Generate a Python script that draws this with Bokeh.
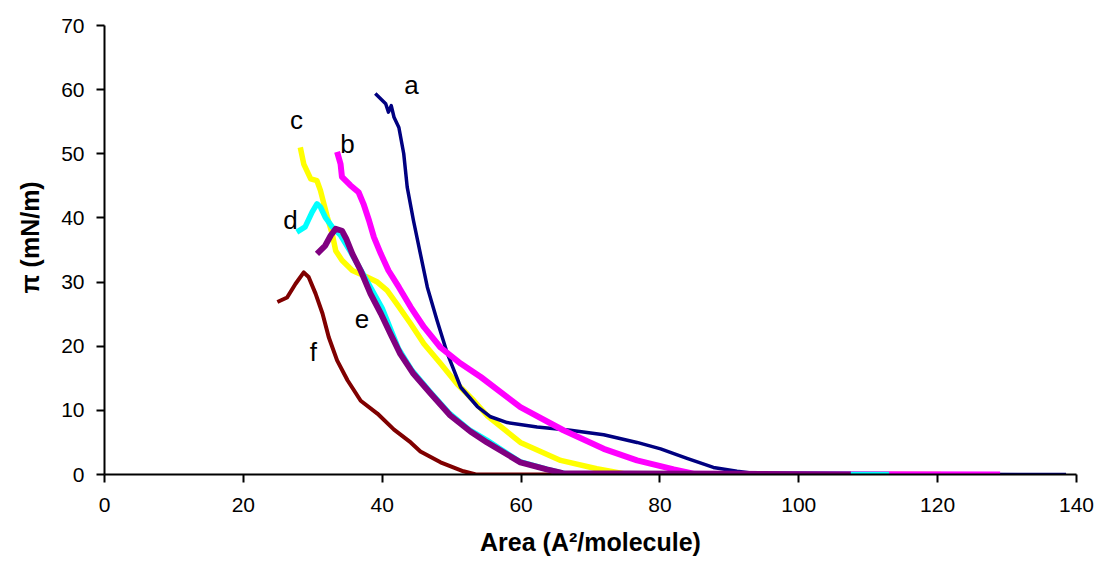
from bokeh.plotting import figure
from bokeh.models import Range1d, FixedTicker, Title
from bokeh.core.properties import value
from bokeh.embed import file_html
from bokeh.resources import INLINE

# Curve data (Area in A^2/molecule, surface pressure in mN/m)
a_x = [39.0, 40.5, 40.9, 41.3, 41.7, 42.4, 43.1, 43.6, 44.5, 45.5, 46.5, 47.9, 49.4, 51.3, 53.7, 55.6, 58.0, 62.3, 67.1, 71.9, 76.7, 80.1, 83.9, 87.7, 91.1, 94.0, 138.5]
a_y = [59.4, 57.8, 56.5, 57.5, 55.7, 54.1, 50.0, 44.8, 39.6, 34.4, 29.2, 24.0, 18.8, 13.6, 10.6, 9.0, 8.1, 7.4, 6.9, 6.2, 5.0, 4.0, 2.5, 1.1, 0.5, 0.1, 0.0]

b_x = [33.5, 34.0, 34.2, 35.4, 36.6, 37.3, 38.1, 38.8, 39.8, 40.9, 42.4, 44.1, 46.0, 48.4, 51.3, 54.2, 59.9, 66.1, 71.9, 76.7, 82.0, 85.0, 129.0]
b_y = [50.3, 48.4, 46.4, 45.1, 44.0, 42.2, 39.6, 37.0, 34.4, 31.8, 29.2, 26.1, 23.0, 19.8, 17.3, 15.2, 10.5, 6.9, 4.0, 2.2, 0.8, 0.1, 0.0]

c_x = [28.2, 28.7, 29.7, 30.6, 31.1, 31.6, 32.1, 32.8, 33.3, 34.2, 35.7, 37.8, 39.3, 40.7, 42.1, 44.1, 46.0, 48.4, 50.8, 53.2, 55.1, 59.9, 65.7, 70.9, 75.0, 120.5]
c_y = [51.0, 48.4, 46.1, 45.8, 44.3, 42.2, 40.1, 37.5, 34.9, 33.4, 31.8, 30.8, 30.0, 28.7, 26.6, 23.5, 20.4, 17.3, 14.1, 11.5, 9.2, 5.0, 2.2, 0.9, 0.1, 0.0]

d_x = [27.7, 28.9, 29.9, 30.6, 31.1, 31.8, 32.8, 34.0, 35.5, 37.8, 40.0, 42.3, 44.3, 46.8, 49.6, 52.5, 55.0, 59.8, 63.8, 66.5, 113.0]
d_y = [37.8, 38.6, 40.9, 42.2, 41.7, 40.1, 38.6, 37.3, 34.6, 30.2, 25.9, 19.7, 16.2, 13.0, 9.6, 7.0, 5.4, 2.0, 0.8, 0.1, 0.0]

e_x = [30.6, 31.8, 32.6, 33.3, 34.2, 34.8, 35.7, 36.9, 38.3, 39.8, 41.2, 42.6, 44.5, 47.0, 49.8, 52.7, 55.1, 59.9, 63.7, 66.0, 107.5]
e_y = [34.4, 35.7, 37.3, 38.3, 38.0, 36.8, 34.4, 31.8, 28.2, 25.1, 21.9, 18.8, 15.7, 12.6, 9.2, 6.7, 5.0, 1.9, 0.8, 0.2, 0.0]

f_x = [24.9, 26.3, 27.5, 28.7, 29.4, 30.4, 31.4, 32.3, 33.5, 35.0, 36.9, 39.3, 41.7, 44.1, 45.5, 48.4, 51.7, 53.5, 98.0]
f_y = [26.9, 27.6, 29.7, 31.5, 30.8, 28.2, 25.1, 21.4, 17.8, 14.7, 11.5, 9.5, 7.0, 5.0, 3.6, 1.9, 0.5, 0.0, 0.0]

# Curve labels
label_text = ["a", "b", "c", "d", "e", "f"]
label_x = [44.2, 35.0, 27.65, 26.8, 37.1, 30.1]
label_y = [60.8, 51.6, 55.2, 39.6, 24.3, 19.1]

x_ticks = [0, 20, 40, 60, 80, 100, 120, 140]
y_ticks = [0, 10, 20, 30, 40, 50, 60, 70]

FONT = "Liberation Sans"

p = figure(width=1102, height=567, output_backend="svg", toolbar_location=None,
           x_range=Range1d(0, 140), y_range=Range1d(0, 70),
           min_border_left=104, min_border_right=26, min_border_top=25, min_border_bottom=93)
p.outline_line_color = None
p.xgrid.visible = False
p.ygrid.visible = False
p.background_fill_color = "white"
p.border_fill_color = "white"

# Drawing order mimics overlap in the reference
p.line(f_x, f_y, line_color="#800000", line_width=4, line_join="round")
p.line(c_x, c_y, line_color="#FFFF00", line_width=5.5, line_join="round")
p.line(a_x, a_y, line_color="#000080", line_width=3.5, line_join="round")
p.line(b_x, b_y, line_color="#FF00FF", line_width=6, line_join="round")
p.line(d_x, d_y, line_color="#00FFFF", line_width=5.5, line_join="round")
p.line(e_x, e_y, line_color="#800080", line_width=6, line_join="round")

p.text(x=label_x, y=label_y, text=label_text, text_font=value(FONT),
       text_font_size="26px", text_color="black",
       text_align="center", text_baseline="middle")

for ax, ticks in ((p.xaxis, x_ticks), (p.yaxis, y_ticks)):
    ax.ticker = FixedTicker(ticks=ticks)
    ax.axis_line_width = 2
    ax.axis_line_color = "black"
    ax.major_tick_line_width = 2
    ax.major_tick_line_color = "black"
    ax.major_tick_out = 8
    ax.major_tick_in = 0
    ax.minor_tick_line_color = None
    ax.major_label_text_font = FONT
    ax.major_label_text_font_size = "21px"
    ax.major_label_text_color = "black"

p.xaxis.major_label_standoff = 15
p.yaxis.major_label_standoff = 12

p.xaxis.axis_label = "Area (A\u00b2/molecule)"
p.xaxis.axis_label_text_font = FONT
p.xaxis.axis_label_text_font_size = "25px"
p.xaxis.axis_label_text_font_style = "bold"
p.xaxis.axis_label_text_color = "black"
p.xaxis.axis_label_standoff = 13

ytitle = Title(text="\u03c0 (mN/m)", align="left", offset=181, vertical_align="top",
               text_font=FONT, text_font_size="25px", text_font_style="bold",
               text_color="black", standoff=26)
p.add_layout(ytitle, "left")

open("out.html", "w").write(file_html(p, INLINE))
